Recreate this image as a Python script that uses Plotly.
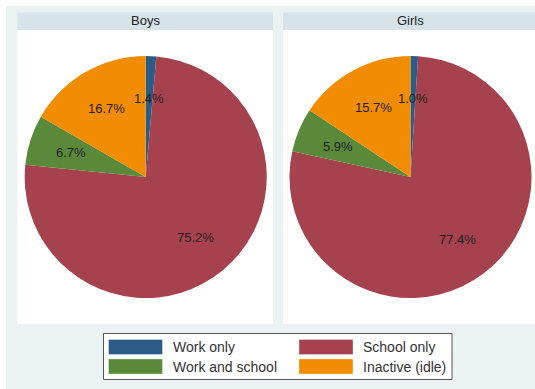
import math
import plotly.graph_objects as go

# Activity status of children, by sex (percent of children)
categories = ["Work only", "School only", "Work and school", "Inactive (idle)"]
groups = ["Boys", "Girls"]
boys_pct = [1.4, 75.2, 6.7, 16.7]
girls_pct = [1.0, 77.4, 5.9, 15.7]
slice_colors = ["#2B5C88", "#A6414E", "#5B893A", "#F28C00"]

W, H = 535, 389
BG = "#EAF2F3"
STRIP = "#D6E4EA"


def px(x):
    return x / W


def py(y):
    return 1 - y / H


fig = go.Figure()
shapes = []
annotations = []

# outer graph region
shapes.append(dict(type="rect", xref="paper", yref="paper",
                   x0=px(6), x1=px(W), y0=py(H), y1=py(6),
                   fillcolor=BG, line=dict(width=0), layer="below"))

panels = [
    dict(name=groups[0], values=boys_pct, x0=17.5, x1=273, cx=145.7),
    dict(name=groups[1], values=girls_pct, x0=283, x1=W, cx=410.5),
]
cy, R = 177, 121
label_r = 0.65 * R

for p in panels:
    # white plot panel and its title strip
    shapes.append(dict(type="rect", xref="paper", yref="paper",
                       x0=px(p["x0"]), x1=px(p["x1"]), y0=py(324), y1=py(30),
                       fillcolor="white", line=dict(width=0), layer="below"))
    shapes.append(dict(type="rect", xref="paper", yref="paper",
                       x0=px(p["x0"]), x1=px(p["x1"]), y0=py(30), y1=py(12.5),
                       fillcolor=STRIP, line=dict(width=0), layer="below"))
    annotations.append(dict(xref="paper", yref="paper",
                            x=px((p["x0"] + p["x0"] + 255.5) / 2), y=py(21),
                            text=p["name"], showarrow=False,
                            font=dict(size=13, color="#222"),
                            xanchor="center", yanchor="middle"))

    fig.add_trace(go.Pie(
        labels=categories, values=p["values"], sort=False,
        direction="clockwise", rotation=0,
        marker=dict(colors=slice_colors, line=dict(width=0)),
        textinfo="none", hoverinfo="label+percent", showlegend=False,
        domain=dict(x=[px(p["cx"] - R), px(p["cx"] + R)],
                    y=[py(cy + R), py(cy - R)]),
    ))

    # percentage labels at the middle angle of each slice
    total = sum(p["values"])
    cum = 0.0
    for v in p["values"]:
        mid = (cum + v / 2) / total * 2 * math.pi
        cum += v
        lx = p["cx"] + label_r * math.sin(mid)
        ly = cy - label_r * math.cos(mid)
        annotations.append(dict(xref="paper", yref="paper",
                                x=px(lx), y=py(ly), text=f"{v:.1f}%",
                                showarrow=False,
                                font=dict(size=13, color="#222"),
                                xanchor="center", yanchor="middle"))

# legend box
shapes.append(dict(type="rect", xref="paper", yref="paper",
                   x0=px(103.5), x1=px(452), y0=py(379.5), y1=py(333.5),
                   fillcolor="white", line=dict(color="#555", width=1)))
key_cols = [108.5, 299]
key_rows = [(339.5, 354.5), (359, 374)]
for i, (name, col) in enumerate(zip(categories, slice_colors)):
    c, r = i % 2, i // 2
    x0 = key_cols[c]
    y0, y1 = key_rows[r]
    shapes.append(dict(type="rect", xref="paper", yref="paper",
                       x0=px(x0), x1=px(x0 + 54), y0=py(y1), y1=py(y0),
                       fillcolor=col, line=dict(color="rgba(255,255,255,0.35)", width=1)))
    annotations.append(dict(xref="paper", yref="paper",
                            x=px(x0 + 62), y=py((y0 + y1) / 2), text=name,
                            showarrow=False, font=dict(size=14, color="#333"),
                            xanchor="left", yanchor="middle"))

fig.update_layout(
    width=W, height=H,
    margin=dict(l=0, r=0, t=0, b=0),
    paper_bgcolor="white",
    font=dict(family="Liberation Sans, Arial, sans-serif"),
    shapes=shapes,
    annotations=annotations,
)

fig.write_html("out.html")
